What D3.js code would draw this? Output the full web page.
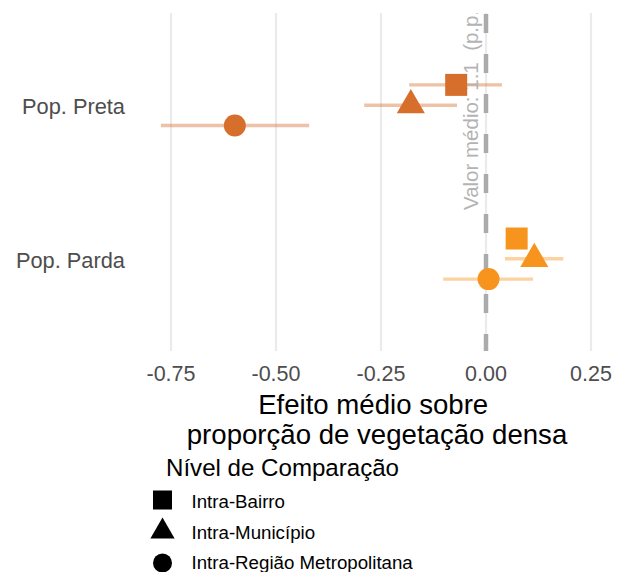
<!DOCTYPE html>
<html>
<head>
<meta charset="utf-8">
<script src="https://cdn.jsdelivr.net/npm/d3@7"></script>
<style>
  html, body { margin: 0; padding: 0; background: #fff; }
  svg { display: block; font-family: "Liberation Sans", Arial, sans-serif; }
</style>
</head>
<body>
<svg id="chart" width="625" height="572"></svg>
<script>
// ---------- data ----------
const groups = ["Pop. Preta", "Pop. Parda"];
const levels = ["Intra-Bairro", "Intra-Município", "Intra-Região Metropolitana"];
const estPreta = [-0.071, -0.179, -0.598];
const lowPreta = [-0.183, -0.290, -0.774];
const highPreta = [0.038, -0.069, -0.421];
const estParda = [0.073, 0.115, 0.006];
const lowParda = [0.058, 0.045, -0.102];
const highParda = [0.088, 0.184, 0.112];
const xTicks = [-0.75, -0.50, -0.25, 0.00, 0.25];
const refValue = 0;
const refLabel = "Valor médio: 1.1  (p.p.)";
const groupColors = ["#D66E2C", "#F7941D"];
const xTitle = ["Efeito médio sobre", "proporção de vegetação densa"];
const legendTitle = "Nível de Comparação";

const rows = [];
levels.forEach((lv, i) => {
  rows.push({ group: groups[0], level: lv, est: estPreta[i], lo: lowPreta[i], hi: highPreta[i] });
  rows.push({ group: groups[1], level: lv, est: estParda[i], lo: lowParda[i], hi: highParda[i] });
});

// ---------- layout ----------
const svg = d3.select("#chart");
const panel = { top: 13, bottom: 351 };

const x = d3.scaleLinear().domain([-0.825, 0.32]).range([139.5, 620.4]);
const y = d3.scalePoint().domain(groups).range([panel.top, panel.bottom]).padding(0.6);
const dodge = d3.scalePoint().domain(levels).range([-20.3, 20.3]);
const color = d3.scaleOrdinal().domain(groups).range(groupColors);

const shapeOf = { "Intra-Bairro": "square", "Intra-Município": "triangle", "Intra-Região Metropolitana": "circle" };

function drawShape(g, shape, cx, cy, size, fill) {
  if (shape === "square") {
    g.append("rect").attr("x", cx - size / 2).attr("y", cy - size / 2)
      .attr("width", size).attr("height", size).attr("fill", fill);
  } else if (shape === "circle") {
    g.append("circle").attr("cx", cx).attr("cy", cy).attr("r", size / 2).attr("fill", fill);
  } else {
    const r = size * 0.736;
    const pts = [[cx, cy - r], [cx + r * Math.sqrt(3) / 2, cy + r / 2], [cx - r * Math.sqrt(3) / 2, cy + r / 2]];
    g.append("path").attr("d", "M" + pts.map(p => p.join(",")).join("L") + "Z").attr("fill", fill);
  }
}

// clip for panel
svg.append("defs").append("clipPath").attr("id", "panelClip")
  .append("rect").attr("x", 0).attr("y", panel.top).attr("width", 625).attr("height", panel.bottom - panel.top);

// gridlines
svg.append("g").selectAll("line").data(xTicks).join("line")
  .attr("x1", d => x(d)).attr("x2", d => x(d))
  .attr("y1", panel.top).attr("y2", panel.bottom)
  .attr("stroke", "#EBEBEB").attr("stroke-width", 2.2);

// reference dashed line
svg.append("line")
  .attr("x1", x(refValue)).attr("x2", x(refValue))
  .attr("y1", panel.top + 1).attr("y2", panel.bottom)
  .attr("stroke", "#ABABAB").attr("stroke-width", 4.5)
  .attr("stroke-dasharray", "19,21");

// error bars
svg.append("g").selectAll("line").data(rows).join("line")
  .attr("x1", d => x(d.lo)).attr("x2", d => x(d.hi))
  .attr("y1", d => y(d.group) + dodge(d.level)).attr("y2", d => y(d.group) + dodge(d.level))
  .attr("stroke", d => color(d.group)).attr("stroke-opacity", 0.42)
  .attr("stroke-width", 3.4);

// reference label (clipped by panel)
svg.append("g").attr("clip-path", "url(#panelClip)")
  .append("text")
  .attr("transform", `translate(${x(refValue) - 8},210) rotate(-90)`)
  .attr("text-anchor", "start")
  .attr("font-size", 20.5)
  .attr("fill", "#B3B3B3")
  .style("white-space", "pre")
  .text(refLabel);

// points
const pg = svg.append("g");
rows.forEach(d => {
  drawShape(pg, shapeOf[d.level], x(d.est), y(d.group) + dodge(d.level), 22, color(d.group));
});

// y axis labels
svg.append("g").selectAll("text").data(groups).join("text")
  .attr("x", 125).attr("y", d => y(d) + 1)
  .attr("dy", "0.36em")
  .attr("text-anchor", "end")
  .attr("font-size", 21.8)
  .attr("fill", "#4D4D4D")
  .text(d => d);

// x tick labels
svg.append("g").selectAll("text").data(xTicks).join("text")
  .attr("x", d => x(d)).attr("y", 381)
  .attr("text-anchor", "middle")
  .attr("font-size", 21.5)
  .attr("fill", "#4D4D4D")
  .text(d => d3.format(".2f")(d).replace("−", "-"));

// x axis title
const xt = svg.append("text").attr("text-anchor", "middle").attr("font-size", 27.6).attr("fill", "#000")
  .style("white-space", "pre");
xt.append("tspan").attr("x", 377).attr("y", 414).text(xTitle[0] + " ");
xt.append("tspan").attr("x", 377).attr("y", 444).text(xTitle[1]);

// legend
const lg = svg.append("g");
lg.append("text").attr("x", 166).attr("y", 476).attr("font-size", 24.1).attr("fill", "#000").text(legendTitle);
const legY = [500, 531.5, 563];
const legTextY = [508, 538.5, 569];
levels.forEach((lv, i) => {
  drawShape(lg, shapeOf[lv], 162.5, legY[i], 19, "#000");
  lg.append("text").attr("x", 191.5).attr("y", legTextY[i]).attr("font-size", 18.7).attr("fill", "#000").text(lv);
});
</script>
</body>
</html>
